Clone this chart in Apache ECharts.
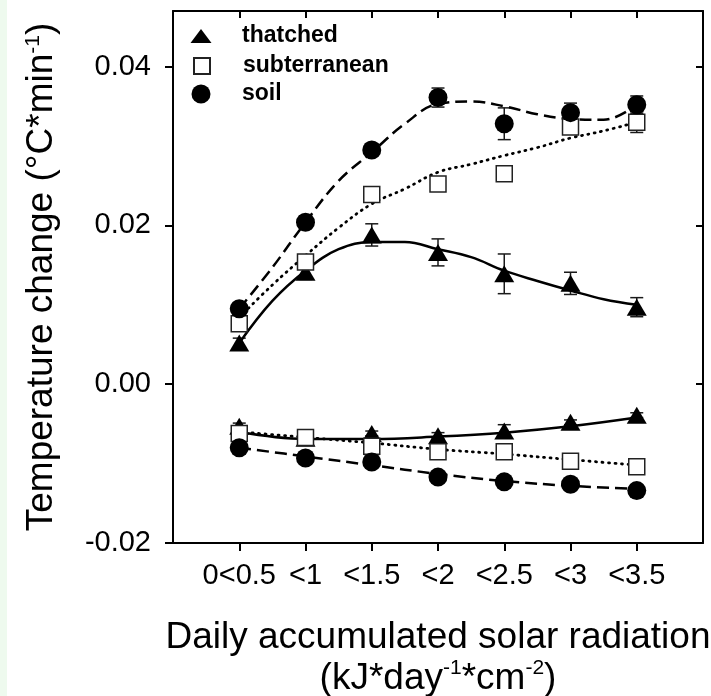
<!DOCTYPE html>
<html>
<head>
<meta charset="utf-8">
<script src="https://cdn.jsdelivr.net/npm/echarts@6/dist/echarts.min.js"></script>
<style>
  body { margin: 0; }
  #main {
    width: 711px; height: 696px;
    background: linear-gradient(to right, #eefaee 7px, #ffffff 7px);
  }
</style>
</head>
<body>
<div id="main"></div>
<script>
// 分类（横轴）
const categories = ['0<0.5', '<1', '<1.5', '<2', '<2.5', '<3', '<3.5'];
const xPos = [1, 2, 3, 4, 5, 6, 7];
const yTicks = [-0.02, 0, 0.02, 0.04];
// 拟合曲线的读数位置（半格）
const fitX = [1, 1.5, 2, 2.5, 3, 3.5, 4, 4.5, 5, 5.5, 6, 6.5, 7];

// 升温组（上方）
const thatchedUp = [0.0052, 0.0141, 0.0188, 0.0166, 0.0139, 0.0127, 0.0097];
const thatchedUpErr = [0.0006, 0.0009, 0.0014, 0.0017, 0.0025, 0.0014, 0.0012];
const thatchedUpFit = [0.0052, 0.0105, 0.0143, 0.0170, 0.0179, 0.0179, 0.0170, 0.0160, 0.0143, 0.0130, 0.0118, 0.0107, 0.0100];

const subterUp = [0.0076, 0.0154, 0.0239, 0.0252, 0.0265, 0.0324, 0.0330];
const subterUpErr = [0.0008, 0.0005, 0.0005, 0.0008, 0.0004, 0.0006, 0.0013];
const subterUpFit = [0.0084, 0.0125, 0.0162, 0.0197, 0.0227, 0.0246, 0.0267, 0.0277, 0.0288, 0.0298, 0.0310, 0.0319, 0.0330];

const soilUp = [0.0095, 0.0204, 0.0295, 0.0361, 0.0328, 0.0342, 0.0352];
const soilUpErr = [0.0006, 0.0008, 0.0008, 0.0012, 0.0020, 0.0012, 0.0011];
const soilUpFit = [0.0095, 0.0147, 0.0204, 0.0256, 0.0292, 0.0328, 0.0353, 0.0356, 0.0350, 0.0340, 0.0334, 0.0333, 0.0352];

// 降温组（下方）
const thatchedDown = [-0.0053, -0.0068, -0.0062, -0.0065, -0.0059, -0.0048, -0.0039];
const thatchedDownErr = [0.0004, 0.0003, 0.0003, 0.0004, 0.0008, 0.0003, 0.0003];
const thatchedDownFit = [-0.0060, -0.0069, -0.0069, -0.0066, -0.0061, -0.0053, -0.0042];

const subterDown = [-0.0062, -0.0067, -0.0078, -0.0085, -0.0085, -0.0097, -0.0104];
const subterDownErr = [0.0003, 0.0003, 0.0003, 0.0003, 0.0003, 0.0003, 0.0003];
const subterDownFit = [-0.0060, -0.0067, -0.0074, -0.0082, -0.0088, -0.0095, -0.0102];

const soilDown = [-0.0080, -0.0093, -0.0098, -0.0117, -0.0123, -0.0126, -0.0134];
const soilDownErr = [0.0003, 0.0003, 0.0003, 0.0003, 0.0003, 0.0003, 0.0003];
const soilDownFit = [-0.0080, -0.0091, -0.0102, -0.0113, -0.0122, -0.0128, -0.0132];

const FONT = '"Liberation Sans", Arial, sans-serif';

function pairs(xs, arr) {
  return xs.map((x, i) => [x, arr[i]]);
}
function errPairs(arr, err) {
  return xPos.map((x, i) => [x, arr[i], err[i]]);
}

// 误差线
function errorSeries(arr, err) {
  return {
    type: 'custom',
    z: 2,
    silent: true,
    data: errPairs(arr, err),
    encode: { x: 0, y: 1 },
    renderItem: function (params, api) {
      const x = api.value(0), y = api.value(1), e = api.value(2);
      const top = api.coord([x, y + e]);
      const bot = api.coord([x, y - e]);
      const hw = 6.5;
      const st = { stroke: '#1a1a1a', lineWidth: 1.5 };
      return {
        type: 'group',
        children: [
          { type: 'line', shape: { x1: top[0], y1: top[1], x2: bot[0], y2: bot[1] }, style: st },
          { type: 'line', shape: { x1: top[0] - hw, y1: top[1], x2: top[0] + hw, y2: top[1] }, style: st },
          { type: 'line', shape: { x1: bot[0] - hw, y1: bot[1], x2: bot[0] + hw, y2: bot[1] }, style: st }
        ]
      };
    }
  };
}

// 拟合曲线
function fitSeries(xs, arr, lineType, width, cap) {
  return {
    type: 'line',
    z: 3,
    silent: true,
    smooth: 0.4,
    symbol: 'none',
    data: pairs(xs, arr),
    lineStyle: { color: '#000', width: width, type: lineType, cap: cap || 'butt' }
  };
}

const styleThatched = { symbol: 'triangle', symbolSize: [20, 17], itemStyle: { color: '#000', opacity: 1 } };
const styleSubter = { symbol: 'rect', symbolSize: 16, itemStyle: { color: '#fff', borderColor: '#222', borderWidth: 1.5, opacity: 1 } };
const styleSoil = { symbol: 'circle', symbolSize: 19, itemStyle: { color: '#000', opacity: 1 } };

function markerSeries(name, arr, st) {
  return Object.assign({ type: 'scatter', name: name, z: 5, data: pairs(xPos, arr) }, st);
}

let chart = echarts.init(document.getElementById('main'));

function legendItem(name, icon, w, h, top, pad) {
  return {
    data: [{ name: name, icon: icon }],
    left: 201 - w / 2,
    top: top,
    padding: 0,
    itemWidth: w,
    itemHeight: h,
    symbolKeepAspect: false,
    selectedMode: false,
    textStyle: {
      fontFamily: FONT, fontSize: 23, fontWeight: 'bold', color: '#000',
      lineHeight: 24, padding: [0, 0, 0, pad]
    }
  };
}

const axisLineStyle = { color: '#000', width: 2 };

let option = {
  animation: false,
  legend: [
    legendItem('thatched', 'triangle', 21, 14, 24, 25.5),
    legendItem('subterranean', 'rect', 16, 16, 54, 28),
    legendItem('soil', 'circle', 19, 19, 82, 26.5)
  ],
  grid: { left: 173, right: 8, top: 11, bottom: 153, outerBoundsMode: 'none' },
  xAxis: [
    {
      type: 'value', position: 'bottom', min: 0, max: 8, interval: 1,
      axisLine: { onZero: false, lineStyle: axisLineStyle },
      axisTick: { customValues: xPos, length: 8, lineStyle: axisLineStyle },
      axisLabel: {
        customValues: xPos, margin: 18, fontFamily: FONT, fontSize: 29, color: '#000',
        formatter: v => categories[v - 1]
      },
      splitLine: { show: false },
      name: 'Daily accumulated solar radiation\n(kJ*day{sup|-1}*cm{sup|-2})',
      nameLocation: 'middle',
      nameGap: 74,
      nameTextStyle: {
        fontFamily: FONT, fontSize: 37, color: '#000', lineHeight: 41,
        rich: { sup: { fontFamily: FONT, fontSize: 21, verticalAlign: 'top', lineHeight: 41, color: '#000' } }
      }
    },
    {
      type: 'value', position: 'top', min: 0, max: 8, interval: 1,
      axisLine: { onZero: false, lineStyle: axisLineStyle },
      axisTick: { inside: true, customValues: xPos, length: 7, lineStyle: axisLineStyle },
      axisLabel: { show: false },
      splitLine: { show: false }
    }
  ],
  yAxis: [
    {
      type: 'value', position: 'left', min: -0.02, max: 0.047, interval: 0.02,
      axisLine: { show: true, onZero: false, lineStyle: axisLineStyle },
      axisTick: { show: true, customValues: yTicks, length: 8, lineStyle: axisLineStyle },
      axisLabel: {
        customValues: yTicks, margin: 22, fontFamily: FONT, fontSize: 29, color: '#000',
        formatter: v => v.toFixed(2)
      },
      splitLine: { show: false },
      name: 'Temperature change (°C*min{sup|-1})',
      nameLocation: 'middle',
      nameRotate: 90,
      nameGap: 113,
      nameTextStyle: {
        fontFamily: FONT, fontSize: 37, color: '#000',
        rich: { sup: { fontFamily: FONT, fontSize: 21, verticalAlign: 'top', color: '#000' } }
      }
    },
    {
      type: 'value', position: 'right', min: -0.02, max: 0.047, interval: 0.02,
      axisLine: { show: true, onZero: false, lineStyle: axisLineStyle },
      axisTick: { show: true, inside: true, customValues: [0, 0.02, 0.04], length: 7, lineStyle: axisLineStyle },
      axisLabel: { show: false },
      splitLine: { show: false }
    }
  ],
  series: [
    errorSeries(thatchedUp, thatchedUpErr),
    errorSeries(subterUp, subterUpErr),
    errorSeries(soilUp, soilUpErr),
    errorSeries(thatchedDown, thatchedDownErr),
    errorSeries(subterDown, subterDownErr),
    errorSeries(soilDown, soilDownErr),

    fitSeries(fitX, thatchedUpFit, 'solid', 2.5),
    fitSeries(fitX, subterUpFit, [1, 5.5], 2.8, 'round'),
    fitSeries(fitX, soilUpFit, [12, 6], 2.5),
    fitSeries(xPos, thatchedDownFit, 'solid', 2.5),
    fitSeries(xPos, subterDownFit, [1, 5.5], 2.8, 'round'),
    fitSeries(xPos, soilDownFit, [12, 6], 2.5),

    markerSeries('thatched', thatchedUp, styleThatched),
    markerSeries('subterranean', subterUp, styleSubter),
    markerSeries('soil', soilUp, styleSoil),
    markerSeries('thatched', thatchedDown, styleThatched),
    markerSeries('subterranean', subterDown, styleSubter),
    markerSeries('soil', soilDown, styleSoil)
  ]
};
chart.setOption(option);
</script>
</body>
</html>
